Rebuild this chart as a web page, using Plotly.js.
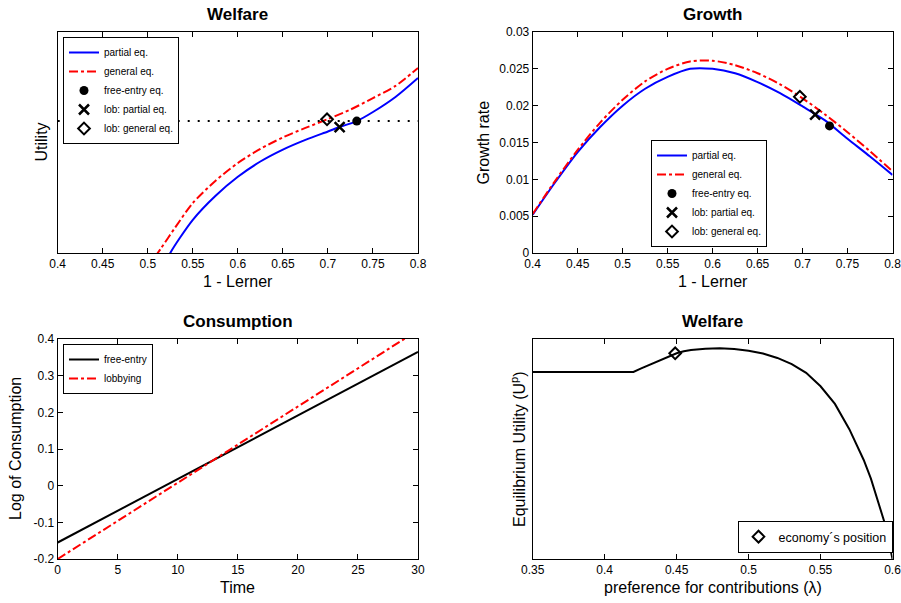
<!DOCTYPE html>
<html>
<head>
<meta charset="utf-8">
<script src="https://cdn.plot.ly/plotly-3.0.1.min.js"></script>
<style>html,body{margin:0;padding:0;background:#fff}#chart{width:901px;height:603px}</style>
</head>
<body>
<div id="chart"></div>
<script>
// ---- Panel 1: Welfare (utility, arbitrary units, no tick labels) ----
const welfareX_partial = [0.522, 0.525, 0.55, 0.575, 0.6, 0.625, 0.65, 0.675, 0.7, 0.713, 0.732, 0.75, 0.775, 0.8];
const welfareU_partial = [-0.03, 0.0, 0.150, 0.258, 0.345, 0.414, 0.468, 0.512, 0.550, 0.570, 0.597, 0.638, 0.706, 0.792];
const welfareX_general = [0.508, 0.515, 0.53, 0.55, 0.575, 0.6, 0.625, 0.65, 0.675, 0.7, 0.725, 0.75, 0.775, 0.8];
const welfareU_general = [-0.018, 0.023, 0.113, 0.226, 0.326, 0.407, 0.471, 0.523, 0.566, 0.606, 0.649, 0.701, 0.756, 0.837];
const welfareRefX = [0.4, 0.8];
const welfareRefU = [0.597, 0.597];
const welfareFreeEntry = {x: [0.732], y: [0.597]};
const welfareLobPartial = {x: [0.713], y: [0.570]};
const welfareLobGeneral = {x: [0.699], y: [0.605]};

// ---- Panel 2: Growth ----
const growthX = [0.4, 0.425, 0.45, 0.475, 0.5, 0.525, 0.55, 0.575, 0.6, 0.625, 0.65, 0.675, 0.7, 0.725, 0.75, 0.775, 0.8];
const growth_partial = [0.0052, 0.0096, 0.0137, 0.0171, 0.0200, 0.0223, 0.0239, 0.0250, 0.0250, 0.0244, 0.0232, 0.0217, 0.0199, 0.0180, 0.0155, 0.0131, 0.0106];
const growth_general = [0.0053, 0.0098, 0.0140, 0.0177, 0.0208, 0.0233, 0.0250, 0.0260, 0.0261, 0.0255, 0.0244, 0.0229, 0.0210, 0.0188, 0.0164, 0.0138, 0.0111];
const growthFreeEntry = {x: [0.730], y: [0.01725]};
const growthLobPartial = {x: [0.714], y: [0.0188]};
const growthLobGeneral = {x: [0.697], y: [0.0212]};

// ---- Panel 3: Consumption ----
const timeX = [0, 30];
const consFreeEntry = [-0.155, 0.365];
const consLobbying = [-0.2, 0.424];

// ---- Panel 4: Welfare vs preference for contributions ----
const lambdaX = [0.35, 0.42, 0.425, 0.43, 0.435, 0.44, 0.445, 0.45, 0.455, 0.46, 0.47, 0.48, 0.49, 0.5, 0.51, 0.52, 0.53, 0.54, 0.55, 0.56, 0.57, 0.58, 0.585, 0.59, 0.595, 0.6];
const lambdaU = [0.85, 0.85, 0.865, 0.879, 0.893, 0.906, 0.920, 0.935, 0.944, 0.950, 0.956, 0.958, 0.955, 0.947, 0.934, 0.914, 0.886, 0.846, 0.785, 0.705, 0.59, 0.45, 0.365, 0.265, 0.155, 0.0];
const economyPos = {x: [0.449], y: [0.935]};

// ---- tick labels ----
const lernerTicks = [0.4, 0.45, 0.5, 0.55, 0.6, 0.65, 0.7, 0.75, 0.8];
const lernerTickText = ['0.4', '0.45', '0.5', '0.55', '0.6', '0.65', '0.7', '0.75', '0.8'];
const growthYTicks = [0, 0.005, 0.01, 0.015, 0.02, 0.025, 0.03];
const growthYTickText = ['0', '0.005', '0.01', '0.015', '0.02', '0.025', '0.03'];
const timeTicks = [0, 5, 10, 15, 20, 25, 30];
const timeTickText = ['0', '5', '10', '15', '20', '25', '30'];
const consYTicks = [-0.2, -0.1, 0, 0.1, 0.2, 0.3, 0.4];
const consYTickText = ['-0.2', '-0.1', '0', '0.1', '0.2', '0.3', '0.4'];
const lambdaTicks = [0.35, 0.4, 0.45, 0.5, 0.55, 0.6];
const lambdaTickText = ['0.35', '0.4', '0.45', '0.5', '0.55', '0.6'];

const FONT = 'Liberation Sans, Arial, Helvetica, sans-serif';
const W = 901, H = 603;
const px = v => v / W;
const py = v => 1 - v / H;

const BLUE = '#0000ff', RED = '#ff0000', BLACK = '#000000';

const dotM = {symbol: 'circle', size: 9, color: BLACK};
const xM = {symbol: 'x-thin-open', size: 10, color: BLACK, line: {width: 2.5, color: BLACK}};
const dM = {symbol: 'diamond-open', size: 9, color: BLACK, line: {width: 2, color: BLACK}};

const traces = [
  // panel 1
  {x: welfareX_partial, y: welfareU_partial, xaxis: 'x', yaxis: 'y', mode: 'lines', name: 'partial eq.', line: {color: BLUE, width: 2, shape: 'spline', smoothing: 0.8}, legend: 'legend'},
  {x: welfareX_general, y: welfareU_general, xaxis: 'x', yaxis: 'y', mode: 'lines', name: 'general eq.', line: {color: RED, width: 2, dash: 'dashdot', shape: 'spline', smoothing: 0.8}, legend: 'legend'},
  {x: welfareRefX, y: welfareRefU, xaxis: 'x', yaxis: 'y', mode: 'lines', showlegend: false, line: {color: BLACK, width: 2, dash: '2px,8px'}},
  {x: welfareFreeEntry.x, y: welfareFreeEntry.y, xaxis: 'x', yaxis: 'y', mode: 'markers', name: 'free-entry eq.', marker: dotM, legend: 'legend'},
  {x: welfareLobPartial.x, y: welfareLobPartial.y, xaxis: 'x', yaxis: 'y', mode: 'markers', name: 'lob: partial eq.', marker: xM, legend: 'legend'},
  {x: welfareLobGeneral.x, y: welfareLobGeneral.y, xaxis: 'x', yaxis: 'y', mode: 'markers', name: 'lob: general eq.', marker: dM, legend: 'legend'},
  // panel 2
  {x: growthX, y: growth_partial, xaxis: 'x2', yaxis: 'y2', mode: 'lines', line: {color: BLUE, width: 2, shape: 'spline', smoothing: 0.8}, name: 'partial eq.', legend: 'legend2'},
  {x: growthX, y: growth_general, xaxis: 'x2', yaxis: 'y2', mode: 'lines', line: {color: RED, width: 2, dash: 'dashdot', shape: 'spline', smoothing: 0.8}, name: 'general eq.', legend: 'legend2'},
  {x: growthFreeEntry.x, y: growthFreeEntry.y, xaxis: 'x2', yaxis: 'y2', mode: 'markers', name: 'free-entry eq.', marker: dotM, legend: 'legend2'},
  {x: growthLobPartial.x, y: growthLobPartial.y, xaxis: 'x2', yaxis: 'y2', mode: 'markers', name: 'lob: partial eq.', marker: xM, legend: 'legend2'},
  {x: growthLobGeneral.x, y: growthLobGeneral.y, xaxis: 'x2', yaxis: 'y2', mode: 'markers', name: 'lob: general eq.', marker: dM, legend: 'legend2'},
  // panel 3
  {x: timeX, y: consFreeEntry, xaxis: 'x3', yaxis: 'y3', mode: 'lines', name: 'free-entry', line: {color: BLACK, width: 2}, legend: 'legend3'},
  {x: timeX, y: consLobbying, xaxis: 'x3', yaxis: 'y3', mode: 'lines', name: 'lobbying', line: {color: RED, width: 2, dash: 'dashdot'}, legend: 'legend3'},
  // panel 4
  {x: lambdaX, y: lambdaU, xaxis: 'x4', yaxis: 'y4', mode: 'lines', showlegend: false, line: {color: BLACK, width: 2}},
  {x: economyPos.x, y: economyPos.y, xaxis: 'x4', yaxis: 'y4', mode: 'markers', name: 'economy´s position', marker: dM, legend: 'legend4'}
];

const baseAxis = {
  showline: true, linecolor: BLACK, linewidth: 1, mirror: 'ticks', ticks: 'inside', ticklen: 5, tickcolor: BLACK,
  showgrid: false, zeroline: false, tickfont: {family: FONT, size: 12, color: BLACK}, fixedrange: true, tickmode: 'array',
  ticklabeloverflow: 'allow'
};
function xax(d0, d1, range, vals, text, anchor) {
  return Object.assign({}, baseAxis, {domain: [px(d0), px(d1)], range: range, tickvals: vals, ticktext: text, anchor: anchor});
}
function yax(top, bottom, range, vals, text, anchor, extra) {
  return Object.assign({}, baseAxis, {domain: [py(bottom), py(top)], range: range, tickvals: vals, ticktext: text, anchor: anchor}, extra || {});
}

const L1 = 57.7, R1 = 418, L2 = 532.7, R2 = 892.5;
const T1 = 32, B1 = 253, T2 = 339, B2 = 559;

const legendBase = {bordercolor: BLACK, borderwidth: 1, bgcolor: '#ffffff', font: {family: FONT, size: 10, color: BLACK}, tracegroupgap: 0, itemclick: false};

const ann = (text, x, y, size, opts) => Object.assign({
  text: text, xref: 'paper', yref: 'paper', x: px(x), y: py(y), xanchor: 'center', yanchor: 'middle',
  showarrow: false, font: {family: FONT, size: size, color: BLACK}
}, opts || {});

const noTicks = {ticks: '', showticklabels: false, mirror: true};

const layout = {
  width: W, height: H,
  margin: {l: 0, r: 0, t: 0, b: 0},
  paper_bgcolor: '#ffffff', plot_bgcolor: '#ffffff',
  font: {family: FONT, color: BLACK},
  xaxis: xax(L1, R1, [0.4, 0.8], lernerTicks, lernerTickText, 'y'),
  yaxis: yax(T1, B1, [0, 1], [], [], 'x', noTicks),
  xaxis2: xax(L2, R2, [0.4, 0.8], lernerTicks, lernerTickText, 'y2'),
  yaxis2: yax(T1, B1, [0, 0.03], growthYTicks, growthYTickText, 'x2'),
  xaxis3: xax(L1, R1, [0, 30], timeTicks, timeTickText, 'y3'),
  yaxis3: yax(T2, B2, [-0.2, 0.4], consYTicks, consYTickText, 'x3'),
  xaxis4: xax(L2, R2, [0.35, 0.6], lambdaTicks, lambdaTickText, 'y4'),
  yaxis4: yax(T2, B2, [0, 1], [], [], 'x4', noTicks),
  legend: Object.assign({}, legendBase, {x: px(63), y: py(37), xanchor: 'left', yanchor: 'top'}),
  legend2: Object.assign({}, legendBase, {x: px(651), y: py(247), xanchor: 'left', yanchor: 'bottom'}),
  legend3: Object.assign({}, legendBase, {x: px(63), y: py(344), xanchor: 'left', yanchor: 'top'}),
  legend4: Object.assign({}, legendBase, {x: px(892.5), y: py(553), xanchor: 'right', yanchor: 'bottom', font: {family: FONT, size: 12.5, color: BLACK}}),
  annotations: [
    ann('<b>Welfare</b>', (L1 + R1) / 2, 14, 17),
    ann('<b>Growth</b>', (L2 + R2) / 2, 14, 17),
    ann('<b>Consumption</b>', (L1 + R1) / 2, 321, 17),
    ann('<b>Welfare</b>', (L2 + R2) / 2, 321, 17),
    ann('1 - Lerner', (L1 + R1) / 2, 281, 16),
    ann('1 - Lerner', (L2 + R2) / 2, 281, 16),
    ann('Time', (L1 + R1) / 2, 587, 16),
    ann('preference for contributions (λ)', (L2 + R2) / 2, 587, 16),
    ann('Utility', 41, (T1 + B1) / 2, 16, {textangle: -90}),
    ann('Growth rate', 483, (T1 + B1) / 2, 16, {textangle: -90}),
    ann('Log of Consumption', 15, (T2 + B2) / 2, 16, {textangle: -90}),
    ann('Equilibrium Utility (U<sup>p</sup>)', 518, (T2 + B2) / 2, 16, {textangle: -90})
  ]
};

Plotly.newPlot('chart', traces, layout, {staticPlot: true, displayModeBar: false});
</script>
</body>
</html>
